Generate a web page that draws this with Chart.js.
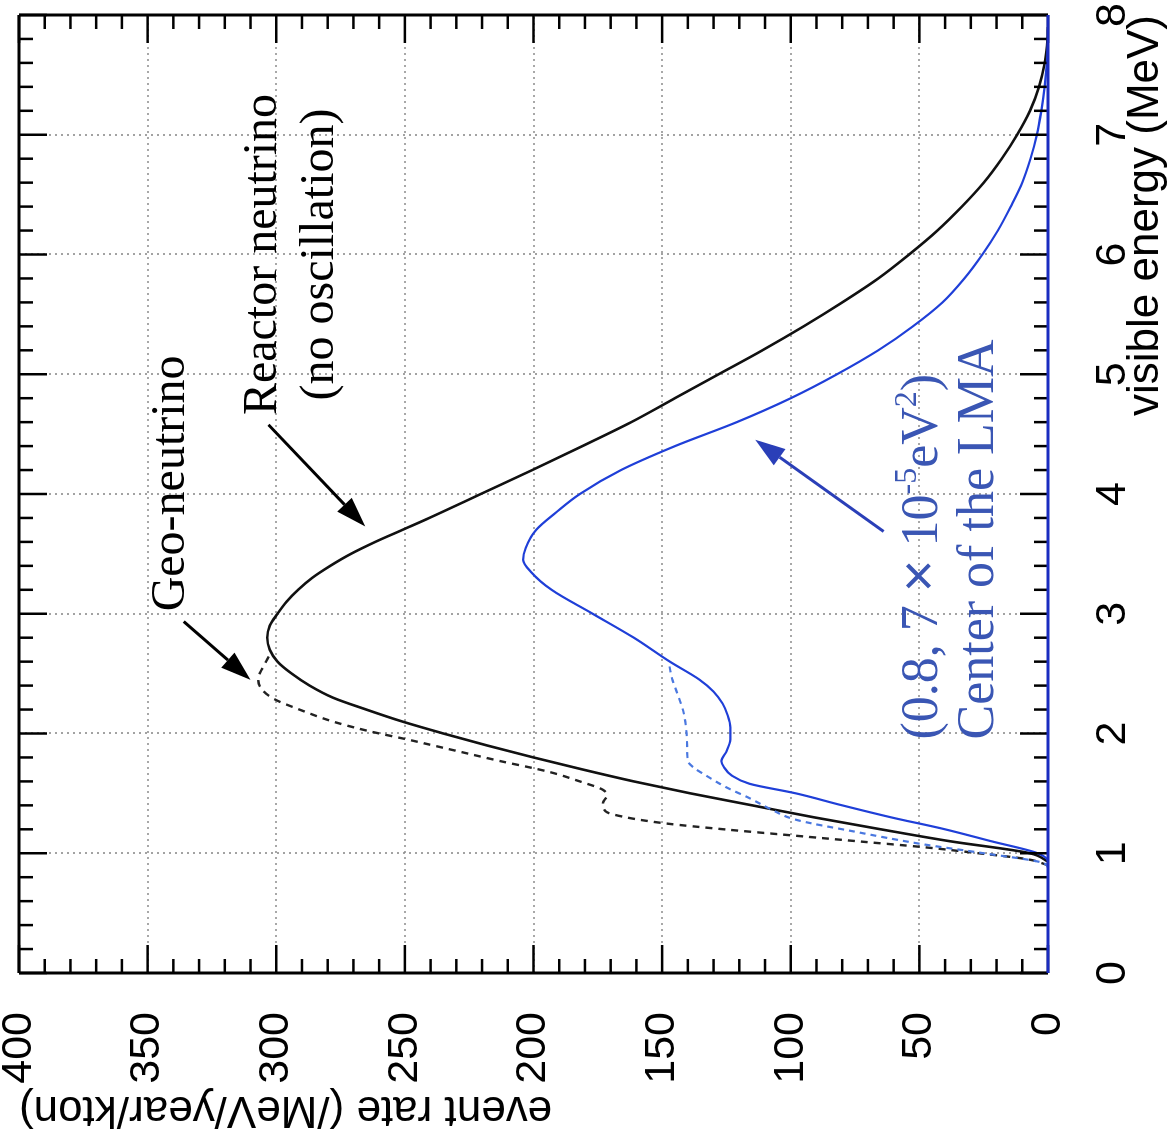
<!DOCTYPE html>
<html>
<head>
<meta charset="utf-8">
<title>Reactor and geo-neutrino spectrum</title>
<script src="https://cdn.jsdelivr.net/npm/chart.js@4.4.1/dist/chart.umd.min.js"></script>
<style>
html, body { margin: 0; padding: 0; background: #fff; overflow: hidden; }
/* the figure is printed on its side, so the whole chart is turned 90deg */
#wrap {
  position: absolute; left: 0; top: 0;
  width: 1135px; height: 1170px;
  transform-origin: 0 0;
  transform: translate(0, 1135px) rotate(-90deg);
}
</style>
</head>
<body>
<div id="wrap"><canvas id="myChart"></canvas></div>
<script>
// visible energy (MeV) -> event rate (/MeV/year/kton)

// reactor neutrino, no oscillation (black solid)
const reactorE    = [0.93, 1.0, 1.1, 1.2, 1.3, 1.4, 1.5, 1.6, 1.7, 1.8, 1.9, 2.0, 2.1, 2.2, 2.3, 2.4, 2.5, 2.6, 2.7, 2.8, 2.9, 3.0, 3.1, 3.2, 3.3, 3.4, 3.5, 3.6, 3.7, 3.8, 4.0, 4.2, 4.4, 4.6, 4.8, 5.0, 5.2, 5.4, 5.6, 5.8, 6.0, 6.2, 6.4, 6.6, 6.8, 7.0, 7.2, 7.4, 7.6, 7.8, 7.9];
const reactorRate = [0, 7, 38, 65, 91, 115, 139, 161, 181, 200, 218, 235, 251, 265, 278, 287, 294, 299.5, 302.5, 303.5, 302.5, 299.5, 296, 291.5, 286, 279, 271, 261.5, 251, 240.5, 220.5, 200.5, 181, 162, 145, 128, 111, 95, 80, 66, 54, 43, 33.5, 25, 18, 12, 7, 3.5, 1.3, 0.2, 0];

// reactor + geo-neutrino (black dashed)
const reactorGeoE    = [0.9, 0.95, 1.0, 1.05, 1.1, 1.15, 1.2, 1.25, 1.3, 1.35, 1.42, 1.48, 1.53, 1.6, 1.68, 1.77, 1.86, 1.95, 2.02, 2.1, 2.2, 2.29, 2.38, 2.46, 2.54, 2.6, 2.66];
const reactorGeoRate = [0, 8, 27, 48, 74, 100, 126, 149, 164, 172, 173, 171.5, 173, 182, 194, 213, 231, 249, 264, 278, 291, 301, 306, 307, 305.5, 304, 302.5];

// center of the LMA (blue solid)
const lmaE    = [0, 0.93, 1.0, 1.1, 1.2, 1.3, 1.4, 1.5, 1.58, 1.65, 1.72, 1.77, 1.85, 1.95, 2.05, 2.15, 2.25, 2.35, 2.45, 2.6, 2.8, 3.0, 3.2, 3.35, 3.45, 3.55, 3.7, 3.85, 4.0, 4.2, 4.4, 4.6, 4.8, 5.0, 5.2, 5.4, 5.6, 5.8, 6.0, 6.2, 6.4, 6.6, 6.8, 7.0, 7.2, 7.4, 7.6, 7.8, 8.0];
const lmaRate = [0, 0, 4, 22, 40, 61, 80, 98, 116, 123, 126, 127, 125, 123.5, 123.5, 124.5, 126.5, 130, 135.5, 147, 161, 177, 193, 201, 204, 203, 199, 191, 182, 166, 145, 121, 100, 82, 66, 52.5, 41, 32.5, 25.5, 19.5, 14.5, 10, 6.8, 4.3, 2.6, 1.3, 0.4, 0, 0];

// LMA + geo-neutrino (blue dashed)
const lmaGeoE    = [0.88, 0.92, 1.0, 1.08, 1.18, 1.28, 1.37, 1.46, 1.55, 1.65, 1.72, 1.77, 1.9, 2.0, 2.17, 2.3, 2.45, 2.6];
const lmaGeoRate = [0, 2, 25, 50, 75, 98, 108, 116, 125, 133, 138, 140, 140.3, 140.5, 141.6, 143.5, 146, 147.5];

const energyMin = 0, energyMax = 8, energyStep = 1;
const rateMin = 0, rateMax = 400, rateStep = 50;

const SANS = '"Liberation Sans", Arial, Helvetica, sans-serif';
const SERIF = '"Liberation Serif", "Times New Roman", Times, serif';
const BLUE_LINE = '#1f3fd8';
const BLUE_DASH = '#4a78e0';
const BLUE_TEXT = '#3a56b4';

function pts(xs, ys) {
  return xs.map((x, i) => ({ x: x, y: ys[i] }));
}

function line(ctx, x1, y1, x2, y2) {
  ctx.beginPath();
  ctx.moveTo(x1, y1);
  ctx.lineTo(x2, y2);
  ctx.stroke();
}

function arrow(ctx, x1, y1, x2, y2, color) {
  const ang = Math.atan2(y2 - y1, x2 - x1);
  const len = 30, half = 10;
  const bx = x2 - len * Math.cos(ang), by = y2 - len * Math.sin(ang);
  ctx.strokeStyle = color;
  ctx.fillStyle = color;
  ctx.lineWidth = 3;
  line(ctx, x1, y1, bx, by);
  ctx.beginPath();
  ctx.moveTo(x2, y2);
  ctx.lineTo(bx + half * Math.sin(ang), by - half * Math.cos(ang));
  ctx.lineTo(bx - half * Math.sin(ang), by + half * Math.cos(ang));
  ctx.closePath();
  ctx.fill();
}

// fixed axis boxes, no extra label padding around the plot
function fixBox(size) {
  return s => {
    if (s.isHorizontal()) s.height = size; else s.width = size;
    s.paddingTop = 0; s.paddingBottom = 0;
    s.paddingLeft = 0; s.paddingRight = 0;
  };
}

// frame, dotted grid, inward ticks on all sides, labels and arrows
const framePlugin = {
  id: 'framePlugin',
  beforeDatasetsDraw(chart) {
    const { ctx, chartArea: a, scales: { x, y } } = chart;
    ctx.save();
    ctx.strokeStyle = '#8c8c8c';
    ctx.lineWidth = 1.6;
    ctx.setLineDash([2, 4]);
    for (let e = energyMin + energyStep; e < energyMax; e += energyStep) {
      const px = Math.round(x.getPixelForValue(e));
      line(ctx, px, a.top, px, a.bottom);
    }
    for (let r = rateMin + rateStep; r < rateMax; r += rateStep) {
      const py = Math.round(y.getPixelForValue(r));
      line(ctx, a.left, py, a.right, py);
    }
    ctx.restore();
  },
  afterDatasetsDraw(chart) {
    const { ctx, chartArea: a, scales: { x, y } } = chart;
    ctx.save();
    ctx.setLineDash([]);
    ctx.strokeStyle = '#000';
    ctx.lineWidth = 2.5;
    for (let i = 0; i <= 40; i++) {
      const px = x.getPixelForValue(i * 0.2);
      const len = i % 5 === 0 ? 28 : 14;
      line(ctx, px, a.top, px, a.top + len);
      line(ctx, px, a.bottom, px, a.bottom - len);
    }
    for (let i = 0; i <= 40; i++) {
      const py = y.getPixelForValue(i * 10);
      const len = i % 5 === 0 ? 28 : 14;
      line(ctx, a.left, py, a.left + len, py);
      line(ctx, a.right, py, a.right - len, py);
    }
    ctx.lineWidth = 3;
    line(ctx, a.left, a.top, a.right, a.top);
    line(ctx, a.left, a.top, a.left, a.bottom);
    line(ctx, a.right, a.top, a.right, a.bottom);
    ctx.strokeStyle = '#1a2cc0';
    line(ctx, a.left, a.bottom, a.right, a.bottom);

    // black labels
    ctx.fillStyle = '#000';
    ctx.textBaseline = 'alphabetic';
    ctx.font = '48px ' + SERIF;
    ctx.textAlign = 'left';
    ctx.fillText('Geo-neutrino', x.getPixelForValue(3.02), y.getPixelForValue(336));
    ctx.textAlign = 'center';
    ctx.fillText('Reactor neutrino', x.getPixelForValue(6.0), y.getPixelForValue(300));
    ctx.fillText('(no oscillation)', x.getPixelForValue(6.0), y.getPixelForValue(278));

    arrow(ctx, x.getPixelForValue(2.935), y.getPixelForValue(336), x.getPixelForValue(2.448), y.getPixelForValue(310), '#000');
    arrow(ctx, x.getPixelForValue(4.578), y.getPixelForValue(303), x.getPixelForValue(3.729), y.getPixelForValue(265.4), '#000');

    // blue labels
    ctx.fillStyle = BLUE_TEXT;
    ctx.textAlign = 'left';
    let tx = x.getPixelForValue(1.95);
    const ty = y.getPixelForValue(43);
    const parts = [
      ['(0.8, 7 ', '52px ' + SERIF, 0],
      ['\u00d7', '56px ' + SANS, 0],
      [' 10', '52px ' + SERIF, 0],
      ['-5', '32px ' + SERIF, 21],
      ['eV', '52px ' + SERIF, 0],
      ['2', '32px ' + SERIF, 21],
      [')', '52px ' + SERIF, 0]
    ];
    parts.forEach(p => {
      ctx.font = p[1];
      ctx.fillText(p[0], tx, ty - p[2]);
      tx += ctx.measureText(p[0]).width;
    });
    ctx.font = '52px ' + SERIF;
    ctx.fillText('Center of the LMA', x.getPixelForValue(1.95), y.getPixelForValue(21.5));

    arrow(ctx, x.getPixelForValue(3.687), y.getPixelForValue(63.9), x.getPixelForValue(4.453), y.getPixelForValue(113.8), '#2a3fb8');
    ctx.restore();
  }
};

const ctx = document.getElementById('myChart');

const myChart = new Chart(ctx, {
  type: 'line',
  data: {
    datasets: [
      {
        label: 'LMA',
        data: pts(lmaE, lmaRate),
        borderColor: BLUE_LINE,
        borderWidth: 2.2,
        order: 0
      },
      {
        label: 'LMA + geo',
        data: pts(lmaGeoE, lmaGeoRate),
        borderColor: BLUE_DASH,
        borderWidth: 2.2,
        borderDash: [6, 5],
        order: 1
      },
      {
        label: 'Reactor',
        data: pts(reactorE, reactorRate),
        borderColor: '#111',
        borderWidth: 2.6,
        order: 2
      },
      {
        label: 'Reactor + geo',
        data: pts(reactorGeoE, reactorGeoRate),
        borderColor: '#222',
        borderWidth: 2.4,
        borderDash: [7, 6],
        order: 3
      }
    ]
  },
  options: {
    responsive: true,
    maintainAspectRatio: false,
    animation: false,
    devicePixelRatio: 1,
    layout: { padding: { top: 19, right: 15, left: 0, bottom: 0 } },
    elements: {
      point: { radius: 0 },
      line: { cubicInterpolationMode: 'monotone', fill: false }
    },
    plugins: {
      legend: { display: false },
      tooltip: { enabled: false }
    },
    scales: {
      x: {
        type: 'linear',
        min: energyMin,
        max: energyMax,
        ticks: {
          stepSize: energyStep,
          padding: 44,
          color: '#000',
          maxRotation: 0,
          autoSkip: false,
          font: { family: SANS, size: 43, lineHeight: 1 }
        },
        grid: { display: false, drawTicks: false },
        border: { display: false },
        title: {
          display: true,
          text: 'visible energy (MeV)',
          align: 'end',
          color: '#000',
          font: { family: SANS, size: 44, lineHeight: 1 },
          padding: { top: 0, bottom: 2 }
        },
        afterFit: fixBox(122)
      },
      y: {
        type: 'linear',
        min: rateMin,
        max: rateMax,
        ticks: {
          stepSize: rateStep,
          padding: 39,
          color: '#000',
          font: { family: SANS, size: 43, lineHeight: 0.8 }
        },
        grid: { display: false, drawTicks: false },
        border: { display: false },
        title: {
          display: true,
          text: 'event rate (/MeV/year/kton)',
          align: 'end',
          color: '#000',
          font: { family: SANS, size: 44, lineHeight: 1 },
          padding: { top: 4, bottom: 0 }
        },
        afterFit: fixBox(162)
      }
    }
  },
  plugins: [framePlugin]
});
</script>
</body>
</html>
